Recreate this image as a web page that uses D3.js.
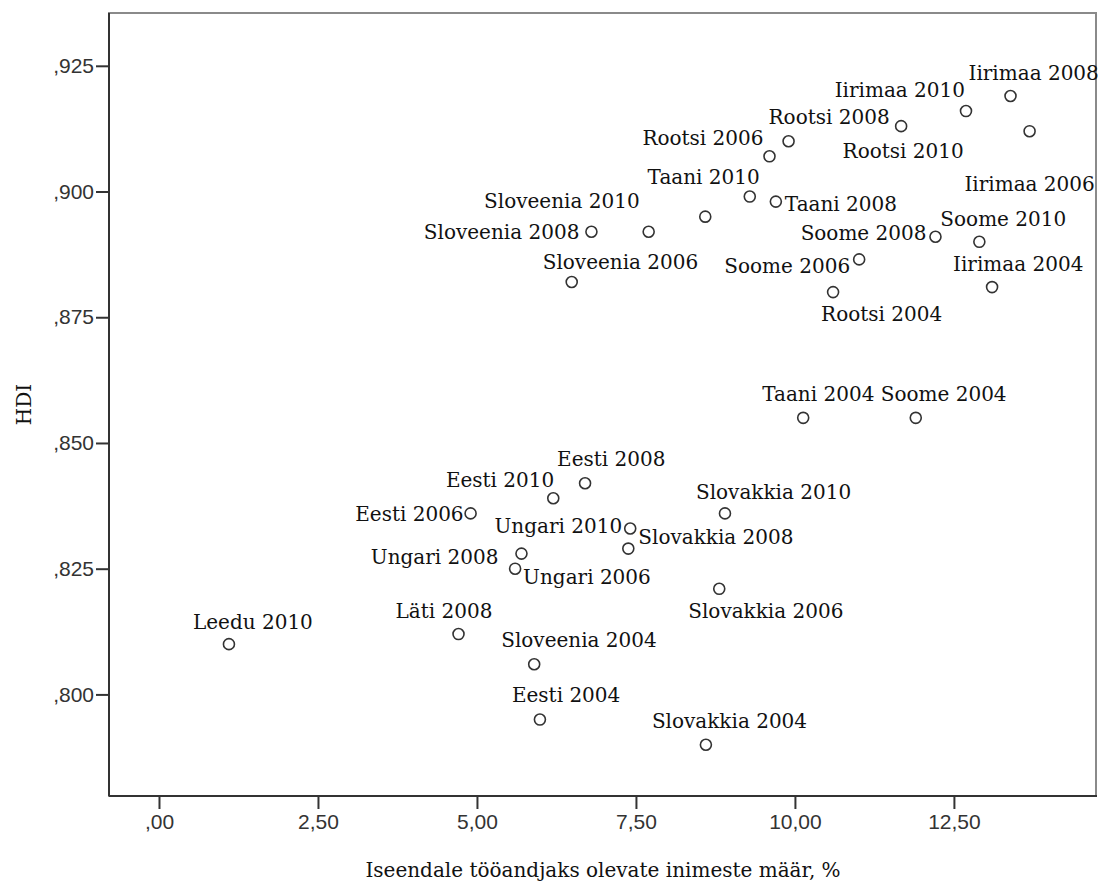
<!DOCTYPE html>
<html>
<head>
<meta charset="utf-8">
<script src="https://cdn.jsdelivr.net/npm/d3@7"></script>
<style>
  html, body { margin: 0; padding: 0; background: #fff; }
  svg { display: block; }
</style>
</head>
<body>
<svg id="chart" width="1098" height="881"></svg>
<script>
// ---- data ----
const pointLabels = [
  "Iirimaa 2008", "Iirimaa 2010", "Iirimaa 2006", "Rootsi 2010", "Rootsi 2008",
  "Rootsi 2006", "Taani 2010", "Taani 2008", "", "Sloveenia 2010",
  "Sloveenia 2008", "Sloveenia 2006", "Soome 2008", "Soome 2010", "Soome 2006",
  "Rootsi 2004", "Iirimaa 2004", "Taani 2004", "Soome 2004", "Eesti 2008",
  "Eesti 2010", "Slovakkia 2010", "Eesti 2006", "Ungari 2010", "Slovakkia 2008",
  "Ungari 2008", "Ungari 2006", "Slovakkia 2006", "Leedu 2010", "Läti 2008",
  "Sloveenia 2004", "Eesti 2004", "Slovakkia 2004"
];
const selfEmployed = [
  13.39, 12.69, 13.69, 11.67, 9.90,
  9.60, 9.29, 9.70, 8.59, 7.70,
  6.80, 6.49, 12.21, 12.90, 11.01,
  10.60, 13.10, 10.13, 11.90, 6.70,
  6.20, 8.90, 4.90, 7.41, 7.38,
  5.70, 5.60, 8.81, 1.10, 4.71,
  5.90, 5.99, 8.60
];
const hdi = [
  0.919, 0.916, 0.912, 0.913, 0.910,
  0.907, 0.899, 0.898, 0.895, 0.892,
  0.892, 0.882, 0.891, 0.890, 0.8865,
  0.880, 0.881, 0.855, 0.855, 0.842,
  0.839, 0.836, 0.836, 0.833, 0.829,
  0.828, 0.825, 0.821, 0.810, 0.812,
  0.806, 0.795, 0.790
];
const xTicks = [0, 2.5, 5, 7.5, 10, 12.5];
const yTicks = [0.800, 0.825, 0.850, 0.875, 0.900, 0.925];
const xTitle = "Iseendale tööandjaks olevate inimeste määr, %";
const yTitle = "HDI";

// ---- label placement (anchor, dx, dy relative to the point) ----
const labelPlacement = [
  ["start", -42, -16], ["end", -1, -14], ["middle", 0, 60], ["middle", 2, 32], ["start", -20, -17],
  ["end", -6, -11], ["end", 10, -13], ["start", 9, 9], ["start", 0, 0], ["end", -9, -24],
  ["end", -12, 7], ["start", -29, -13], ["end", -9, 3], ["start", -39, -16], ["end", -9, 14],
  ["start", -12, 29], ["start", -39, -16], ["start", -41, -17], ["start", -35, -17], ["start", -28, -17],
  ["end", 1, -11], ["start", -29, -14], ["end", -7, 8], ["end", -8, 5], ["start", 10, -5],
  ["end", -23, 10], ["start", 8, 15], ["start", -31, 29], ["start", -36, -15], ["start", -63, -16],
  ["start", -33, -17], ["start", -28, -18], ["start", -54, -17]
];

// ---- layout ----
const plot = { left: 109, top: 13, right: 1097, bottom: 796 };
const svg = d3.select("#chart");

const x = d3.scaleLinear().domain([-0.786, 14.75]).range([plot.left, plot.right]);
const y = d3.scaleLinear().domain([0.7798, 0.9355]).range([plot.bottom, plot.top]);

const fmtY = v => d3.format(".3f")(v).replace(/^0\./, ",");
const fmtX = v => d3.format(".2f")(v).replace(".", ",").replace(/^0,/, ",");

const serif = "'DejaVu Serif', 'Liberation Serif', serif";
const sans = "'Liberation Sans', Arial, sans-serif";

// frame (top & right)
svg.append("rect")
  .attr("x", plot.left).attr("y", plot.top)
  .attr("width", plot.right - plot.left - 1).attr("height", plot.bottom - plot.top)
  .attr("fill", "none").attr("stroke", "#8a8a8a").attr("stroke-width", 2);

// axes
const xAxis = d3.axisBottom(x).tickValues(xTicks).tickFormat(fmtX).tickSizeInner(13).tickSizeOuter(0).tickPadding(5);
const yAxis = d3.axisLeft(y).tickValues(yTicks).tickFormat(fmtY).tickSizeInner(13).tickSizeOuter(0).tickPadding(2);

const gx = svg.append("g").attr("transform", `translate(0,${plot.bottom})`).call(xAxis);
const gy = svg.append("g").attr("transform", `translate(${plot.left},0)`).call(yAxis);

[gx, gy].forEach(g => {
  g.select(".domain").attr("stroke", "#333").attr("stroke-width", 2);
  g.selectAll(".tick line").attr("stroke", "#333").attr("stroke-width", 2);
  g.selectAll(".tick text")
    .attr("fill", "#333")
    .style("font-family", sans)
    .style("font-size", "21px");
});
gx.select(".domain").attr("d", `M${plot.left},0H${plot.right}`);
gy.select(".domain").attr("d", `M0,${plot.top}V${plot.bottom}`);

// axis titles
svg.append("text")
  .attr("x", (plot.left + plot.right) / 2).attr("y", 877)
  .attr("text-anchor", "middle")
  .style("font-family", serif).style("font-size", "20px").attr("fill", "#111")
  .text(xTitle);

svg.append("text")
  .attr("transform", `translate(31,${(plot.top + plot.bottom) / 2}) rotate(-90)`)
  .attr("text-anchor", "middle")
  .style("font-family", serif).style("font-size", "20px").attr("fill", "#111")
  .text(yTitle);

// points
const pts = d3.range(hdi.length).map(i => ({
  label: pointLabels[i], xv: selfEmployed[i], yv: hdi[i], pl: labelPlacement[i]
}));

svg.append("g").selectAll("circle").data(pts).join("circle")
  .attr("cx", d => x(d.xv)).attr("cy", d => y(d.yv))
  .attr("r", 5.5)
  .attr("fill", "none").attr("stroke", "#333").attr("stroke-width", 1.6);

svg.append("g").selectAll("text").data(pts.filter(d => d.label)).join("text")
  .attr("x", d => x(d.xv) + d.pl[1])
  .attr("y", d => y(d.yv) + d.pl[2])
  .attr("text-anchor", d => d.pl[0])
  .style("font-family", serif).style("font-size", "20px").attr("fill", "#111")
  .text(d => d.label);
</script>
</body>
</html>
